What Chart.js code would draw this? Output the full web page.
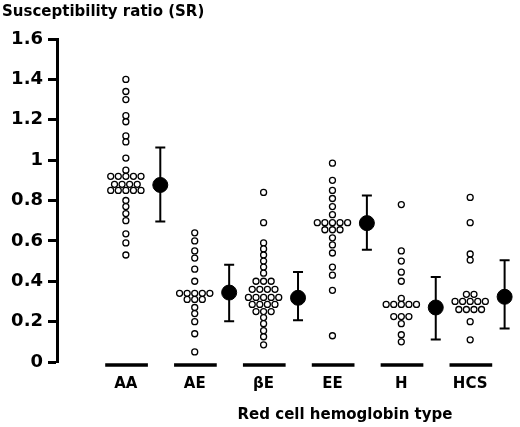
<!DOCTYPE html>
<html>
<head>
<meta charset="utf-8">
<script src="https://cdn.jsdelivr.net/npm/chart.js@4.4.1/dist/chart.umd.min.js"></script>
<style>
  html, body { margin: 0; padding: 0; background: #fff; }
  #wrap { width: 520px; height: 427px; }
</style>
</head>
<body>
<div id="wrap"><canvas id="srChart" width="520" height="427"></canvas></div>
<script>
// Susceptibility ratio par type d'hemoglobine
const categories = ['AA', 'AE', 'βE', 'EE', 'H', 'HCS'];

const aaValues = [1.40, 1.34, 1.30, 1.22, 1.19, 1.12, 1.09, 1.01, 0.95,
    0.92, 0.92, 0.92, 0.92, 0.92, 0.88, 0.88, 0.88, 0.88, 0.85, 0.85, 0.85, 0.85, 0.85,
    0.80, 0.77, 0.735, 0.70, 0.635, 0.59, 0.53];
const aeValues = [0.64, 0.60, 0.55, 0.515, 0.46, 0.40,
    0.34, 0.34, 0.34, 0.34, 0.34, 0.31, 0.31, 0.31,
    0.27, 0.24, 0.20, 0.14, 0.05];
const beValues = [0.84, 0.69, 0.59, 0.56, 0.53, 0.50, 0.47, 0.44,
    0.40, 0.40, 0.40, 0.36, 0.36, 0.36, 0.36, 0.32, 0.32, 0.32, 0.32, 0.32,
    0.285, 0.285, 0.285, 0.285, 0.25, 0.25, 0.25,
    0.22, 0.19, 0.155, 0.125, 0.085];
const eeValues = [0.985, 0.90, 0.85, 0.81, 0.77, 0.73,
    0.69, 0.69, 0.69, 0.69, 0.69, 0.655, 0.655, 0.655,
    0.615, 0.58, 0.54, 0.47, 0.43, 0.355, 0.13];
const hValues = [0.78, 0.55, 0.50, 0.445, 0.40, 0.315,
    0.285, 0.285, 0.285, 0.285, 0.285, 0.225, 0.225, 0.225,
    0.19, 0.135, 0.10];
const hcsValues = [0.815, 0.69, 0.535, 0.505, 0.335, 0.335,
    0.30, 0.30, 0.30, 0.30, 0.30, 0.26, 0.26, 0.26, 0.26,
    0.20, 0.11];

const groupValues = [aaValues, aeValues, beValues, eeValues, hValues, hcsValues];

// moyenne et barres d'erreur
const meanValues = [0.877, 0.344, 0.318, 0.688, 0.270, 0.323];
const upperValues = [1.063, 0.482, 0.446, 0.825, 0.421, 0.504];
const lowerValues = [0.696, 0.202, 0.207, 0.556, 0.112, 0.166];

const yTitle = 'Susceptibility ratio (SR)';
const xTitle = 'Red cell hemoglobin type';

const FONT = '"DejaVu Sans", Verdana, sans-serif';

// points identiques étalés symétriquement autour de la colonne
function swarmPoints() {
    const pts = [];
    groupValues.forEach((vals, i) => {
        const counts = {};
        const order = [];
        vals.forEach(v => {
            if (!counts[v]) { counts[v] = 0; order.push(v); }
            counts[v]++;
        });
        order.forEach(v => {
            const n = counts[v];
            for (let j = 0; j < n; j++) {
                pts.push({x: i + (j - (n - 1) / 2) * 0.11, y: v});
            }
        });
    });
    return pts;
}

const extras = {
    id: 'extras',
    beforeDatasetsDraw(chart) {
        const {ctx, scales: {x, y}} = chart;
        ctx.save();
        ctx.strokeStyle = '#000';
        // barres d'erreur
        ctx.lineWidth = 2;
        meanValues.forEach((m, i) => {
            const px = x.getPixelForValue(i + 0.5);
            const top = y.getPixelForValue(upperValues[i]);
            const bot = y.getPixelForValue(lowerValues[i]);
            ctx.beginPath();
            ctx.moveTo(px, top); ctx.lineTo(px, bot);
            ctx.moveTo(px - 5, top); ctx.lineTo(px + 5, top);
            ctx.moveTo(px - 5, bot); ctx.lineTo(px + 5, bot);
            ctx.stroke();
        });
        // traits sous chaque groupe
        ctx.lineWidth = 3.5;
        const y0 = y.getPixelForValue(0) + 3;
        categories.forEach((c, i) => {
            ctx.beginPath();
            ctx.moveTo(x.getPixelForValue(i - 0.3), y0);
            ctx.lineTo(x.getPixelForValue(i + 0.32), y0);
            ctx.stroke();
        });
        ctx.restore();
    },
    afterDraw(chart) {
        const ctx = chart.ctx;
        ctx.save();
        ctx.fillStyle = '#000';
        ctx.font = 'bold 15px ' + FONT;
        ctx.textAlign = 'center';
        ctx.textBaseline = 'middle';
        ctx.fillText(xTitle, 345, 415);
        ctx.restore();
    }
};

function renderChart() {
    const ctx = document.getElementById('srChart').getContext('2d');
    new Chart(ctx, {
        type: 'scatter',
        data: {
            datasets: [{
                label: 'SR',
                data: swarmPoints(),
                pointRadius: 3,
                pointBorderWidth: 1.3,
                borderColor: '#000',
                backgroundColor: '#fff'
            }, {
                label: 'Moyenne',
                data: meanValues.map((m, i) => ({x: i + 0.5, y: m})),
                pointRadius: 7.5,
                borderColor: '#000',
                backgroundColor: '#000',
                clip: false
            }]
        },
        options: {
            responsive: false,
            animation: false,
            layout: {padding: {left: 2, right: 0, top: 0, bottom: 0}},
            plugins: {
                legend: {display: false},
                tooltip: {enabled: false},
                title: {
                    display: true,
                    text: yTitle,
                    align: 'start',
                    color: '#000',
                    font: {family: FONT, size: 15, weight: 'bold'},
                    padding: {top: 3, bottom: 18}
                }
            },
            scales: {
                x: {
                    type: 'linear',
                    min: -1,
                    max: 5.6,
                    grid: {display: false, drawTicks: false},
                    border: {display: false},
                    afterBuildTicks: scale => {
                        scale.ticks = categories.map((c, i) => ({value: i}));
                    },
                    afterFit: scale => { scale.height = 65; },
                    ticks: {
                        color: '#000',
                        padding: 13,
                        maxRotation: 0,
                        autoSkip: false,
                        font: {family: FONT, size: 15, weight: 'bold'},
                        callback: v => categories[v] !== undefined ? categories[v] : ''
                    }
                },
                y: {
                    min: 0,
                    max: 1.6,
                    afterFit: scale => { scale.width = 55; },
                    grid: {
                        drawOnChartArea: false,
                        tickLength: 9,
                        tickWidth: 3,
                        tickColor: '#000'
                    },
                    border: {display: true, width: 3, color: '#000'},
                    ticks: {
                        stepSize: 0.2,
                        padding: 5,
                        color: '#000',
                        font: {family: FONT, size: 18, weight: 'bold'},
                        callback: v => String(+v.toFixed(1))
                    }
                }
            }
        },
        plugins: [extras]
    });
}

document.addEventListener('DOMContentLoaded', renderChart);
</script>
</body>
</html>
